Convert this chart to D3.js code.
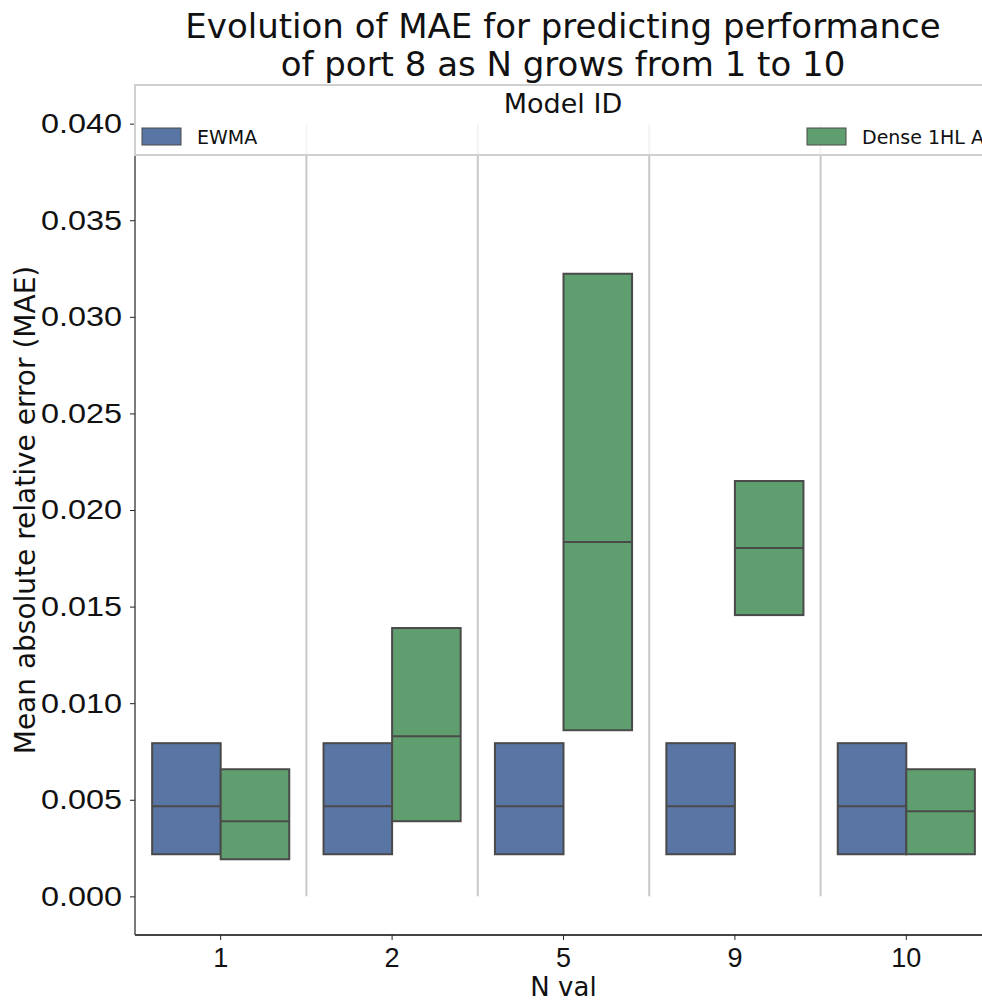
<!DOCTYPE html>
<html>
<head>
<meta charset="utf-8">
<script src="https://cdn.jsdelivr.net/npm/d3@7"></script>
<style>
  html, body { margin: 0; padding: 0; background: #ffffff; }
  svg { display: block; font-family: "DejaVu Sans", sans-serif; }
</style>
</head>
<body>
<svg id="chart" width="982" height="1004"></svg>
<script>
// Categories and models
const nValues = ["1", "2", "5", "9", "10"];
const models = ["EWMA", "Dense 1HL ANN"];
const modelColors = ["#5875a4", "#5f9e6e"];

// Box statistics (lower quartile, median, upper quartile) per N value
const ewmaLow    = [0.00218, 0.00218, 0.00218, 0.00218, 0.00218];
const ewmaMedian = [0.00466, 0.00466, 0.00466, 0.00466, 0.00466];
const ewmaHigh   = [0.00793, 0.00793, 0.00793, 0.00793, 0.00793];

const denseLow    = [0.00192, 0.00389, 0.00860, 0.01456, 0.00218];
const denseMedian = [0.00389, 0.00829, 0.01834, 0.01803, 0.00440];
const denseHigh   = [0.00658, 0.01389, 0.03223, 0.02150, 0.00658];

const yTicks = [0.000, 0.005, 0.010, 0.015, 0.020, 0.025, 0.030, 0.035, 0.040];

const boxes = [];
nValues.forEach((n, i) => {
  boxes.push({ n, model: models[0], low: ewmaLow[i], med: ewmaMedian[i], high: ewmaHigh[i] });
  boxes.push({ n, model: models[1], low: denseLow[i], med: denseMedian[i], high: denseHigh[i] });
});

const svg = d3.select("#chart");
const plotLeft = 135, plotRight = 992, plotTop = 85, plotBottom = 935;

const x = d3.scaleBand().domain(nValues).range([plotLeft, plotRight]);
const xSub = d3.scaleBand().domain(models).range([0, x.bandwidth() * 0.8]);
const y = d3.scaleLinear().domain([-0.002, 0.042]).range([plotBottom, plotTop]);
const color = d3.scaleOrdinal().domain(models).range(modelColors);

// Separators between groups
const seps = nValues.slice(1).map(n => x(n));
svg.append("g").selectAll("line").data(seps).join("line")
  .attr("x1", d => d).attr("x2", d => d)
  .attr("y1", y(0)).attr("y2", y(0.040))
  .attr("stroke", "#c8c8c8").attr("stroke-width", 2);

// Boxes
const offset = x.bandwidth() * 0.1;
const g = svg.append("g");
boxes.forEach(b => {
  const bx = x(b.n) + offset + xSub(b.model);
  const w = xSub.bandwidth();
  g.append("rect")
    .attr("x", bx).attr("y", y(b.high))
    .attr("width", w).attr("height", y(b.low) - y(b.high))
    .attr("fill", color(b.model))
    .attr("stroke", "#4a4a4a").attr("stroke-width", 2);
  g.append("line")
    .attr("x1", bx).attr("x2", bx + w)
    .attr("y1", y(b.med)).attr("y2", y(b.med))
    .attr("stroke", "#4a4a4a").attr("stroke-width", 2);
});

// Y axis
const yAxis = svg.append("g").attr("transform", `translate(${plotLeft},0)`)
  .call(d3.axisLeft(y).tickValues(yTicks).tickFormat(d3.format(".3f")).tickSize(5).tickPadding(8));
yAxis.select(".domain").attr("d", `M0,${plotTop}V${plotBottom}`).attr("stroke", "#222").attr("stroke-width", 1.2);
yAxis.selectAll(".tick line").attr("stroke", "#222");
yAxis.selectAll(".tick text")
  .attr("font-size", 28).attr("fill", "#111")
  .attr("textLength", 81).attr("lengthAdjust", "spacingAndGlyphs");

// X axis
const xAxis = svg.append("g").attr("transform", `translate(0,${plotBottom})`)
  .call(d3.axisBottom(x).tickSize(5).tickPadding(8));
xAxis.select(".domain").attr("d", `M${plotLeft},0H${plotRight}`).attr("stroke", "#444").attr("stroke-width", 2);
xAxis.selectAll(".tick line").attr("stroke", "#222");
xAxis.selectAll(".tick text").attr("font-size", 27).attr("fill", "#111");

// Axis labels
svg.append("text")
  .attr("x", (plotLeft + plotRight) / 2).attr("y", 996)
  .attr("text-anchor", "middle").attr("font-size", 26).attr("fill", "#111")
  .text("N val");
svg.append("text")
  .attr("transform", `translate(35,${(plotTop + plotBottom) / 2}) rotate(-90)`)
  .attr("text-anchor", "middle").attr("font-size", 28).attr("fill", "#111")
  .text("Mean absolute relative error (MAE)");

// Title
const title = svg.append("text")
  .attr("x", 563).attr("text-anchor", "middle")
  .attr("font-size", 34).attr("fill", "#111");
title.append("tspan").attr("x", 563).attr("y", 38).text("Evolution of MAE for predicting performance");
title.append("tspan").attr("x", 563).attr("y", 76).text("of port 8 as N grows from 1 to 10");

// Legend
const legend = svg.append("g");
legend.append("rect")
  .attr("x", plotLeft).attr("y", plotTop)
  .attr("width", 900).attr("height", 70)
  .attr("fill", "#ffffff").attr("fill-opacity", 0.8)
  .attr("stroke", "#d0d0d0").attr("stroke-width", 2);
legend.append("text")
  .attr("x", 563).attr("y", 113)
  .attr("text-anchor", "middle").attr("font-size", 27).attr("fill", "#111")
  .text("Model ID");
const legendX = [142, 807];
models.forEach((m, i) => {
  legend.append("rect")
    .attr("x", legendX[i]).attr("y", 128)
    .attr("width", 39).attr("height", 17)
    .attr("fill", color(m)).attr("stroke", "#4a4a4a").attr("stroke-width", 1);
  legend.append("text")
    .attr("x", legendX[i] + 55).attr("y", 144)
    .attr("font-size", 19).attr("fill", "#111")
    .text(m);
});
</script>
</body>
</html>
